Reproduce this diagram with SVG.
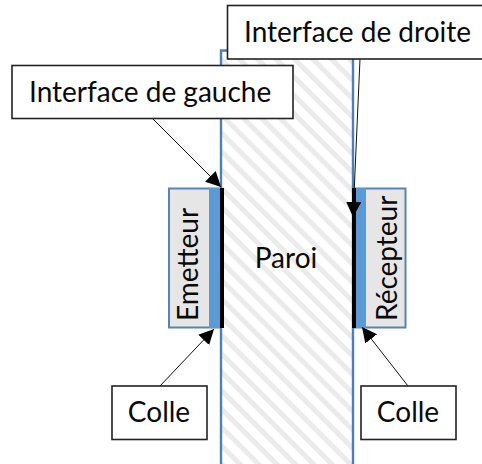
<svg xmlns="http://www.w3.org/2000/svg" width="482" height="464" viewBox="0 0 482 464">
<style>
text{font-family:Lato,"Liberation Sans",sans-serif;font-size:28px;fill:#0a0a0a}
.lb{fill:#fff;stroke:#222;stroke-width:1.6}
.c{stroke:#111;stroke-width:1;fill:none;marker-end:url(#a)}
.blue{fill:#5b9bd5}
.grey{fill:#e7e6e6;stroke:#5585b0;stroke-width:2}
</style>
<defs>
<pattern id="h" width="13" height="13" patternUnits="userSpaceOnUse" patternTransform="rotate(45)">
<rect width="13" height="13" fill="#fff"/><rect width="13" height="5" fill="#ebebeb"/>
</pattern>
<marker id="a" markerUnits="userSpaceOnUse" markerWidth="16" markerHeight="16" refX="15" refY="7.5" orient="auto"><path d="M0 0L15 7.5L0 15Z" fill="#000"/></marker>
</defs>
<g id="paroi"><path d="M221 464V50.500H353V464" fill="url(#h)" stroke="#4f81b0" stroke-width="2.400"/><text x="286" y="268" text-anchor="middle">Paroi</text></g>
<g id="emetteur"><rect class="grey" x="169" y="188.500" width="51" height="139"/><rect class="blue" x="209" y="188" width="11" height="140"/><rect x="220" y="188" width="4" height="140" fill="#000"/><text transform="translate(197.500 321) rotate(-90)">Emetteur</text></g>
<g id="recepteur"><rect class="grey" x="355" y="188.500" width="50.500" height="139"/><rect class="blue" x="355" y="188" width="11" height="140"/><rect x="352" y="188" width="4" height="140" fill="#000"/><text transform="translate(397 321) rotate(-90)">Récepteur</text></g>
<g id="connecteurs"><path class="c" d="M153 119L221 187"/><path class="c" d="M360 59L353 217"/><path class="c" d="M160 386L214 329"/><path class="c" d="M408 386L362 327"/></g>
<g id="droite"><rect class="lb" x="227.500" y="5.500" width="256" height="53.500"/><text x="244" y="41.500">Interface de droite</text></g>
<g id="gauche"><rect class="lb" x="12" y="65.500" width="281" height="53"/><text x="29" y="102">Interface de gauche</text></g>
<g id="colle1"><rect class="lb" x="112" y="386" width="95" height="53.500"/><text x="159" y="422" text-anchor="middle">Colle</text></g>
<g id="colle2"><rect class="lb" x="361" y="386" width="95" height="53.500"/><text x="408" y="422" text-anchor="middle">Colle</text></g>
</svg>
